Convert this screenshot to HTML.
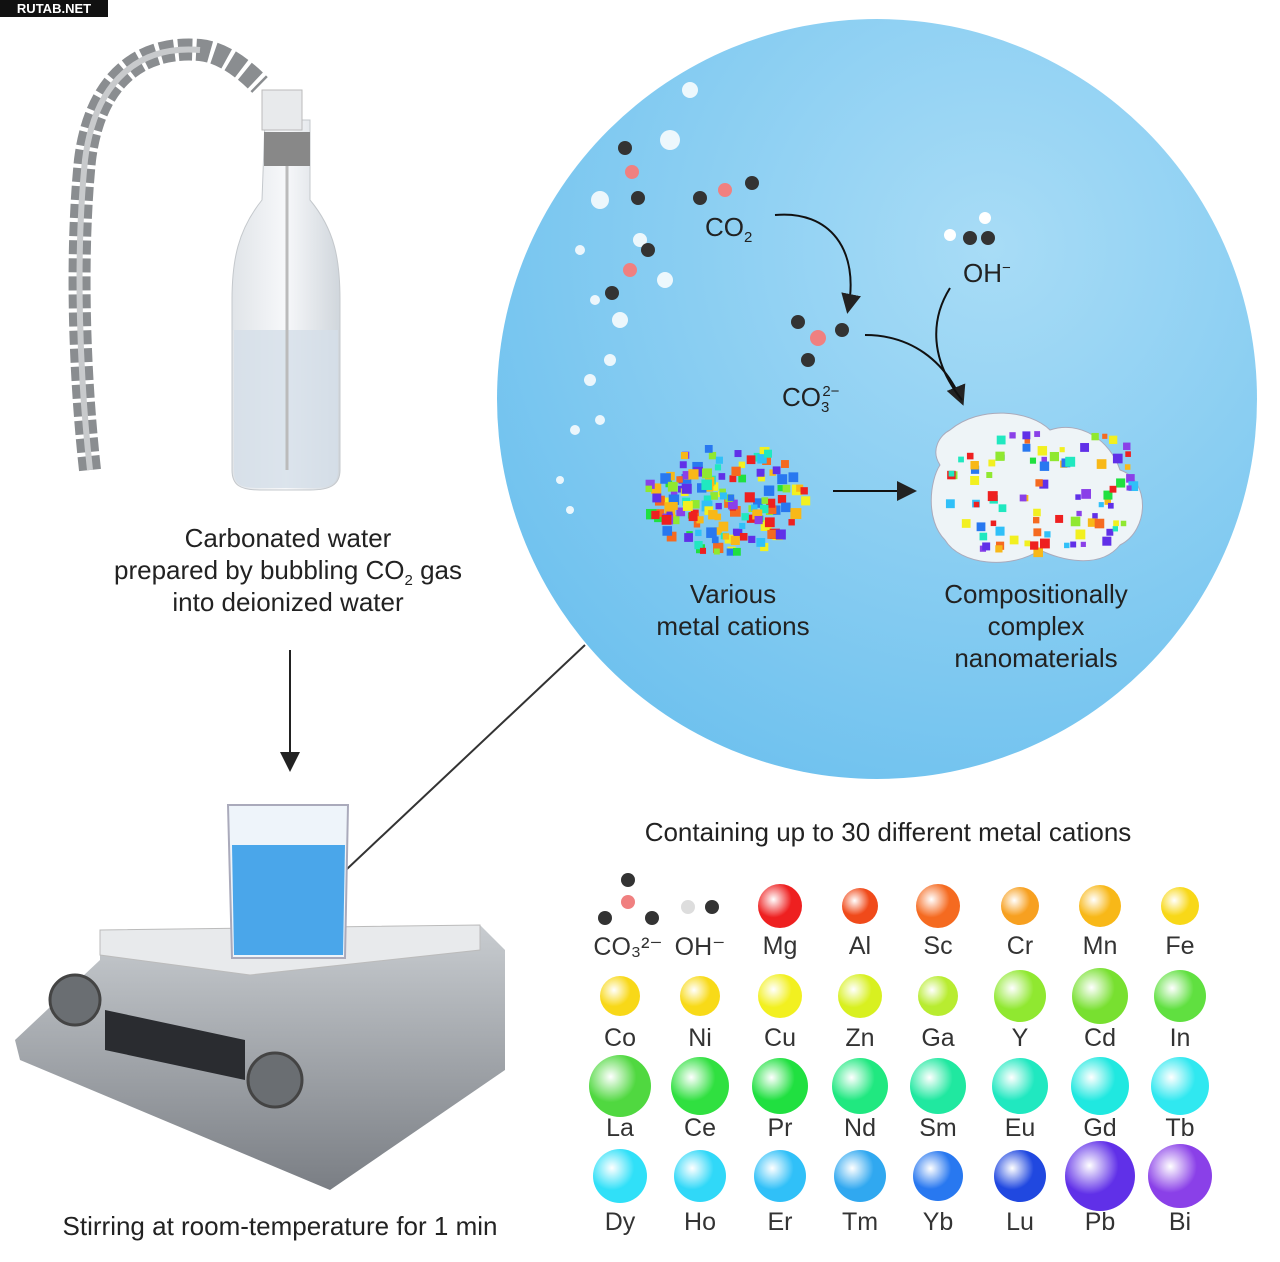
<!DOCTYPE html>
<html><head><meta charset="utf-8"><style>
html,body{margin:0;padding:0;background:#fff;}
body{width:1280px;height:1262px;position:relative;overflow:hidden;font-family:"Liberation Sans",sans-serif;color:#222;}
.t{position:absolute;text-align:center;white-space:nowrap;}
.t sub,.t sup{line-height:0;font-size:15px;}
.lbl{position:absolute;width:80px;text-align:center;font-size:25px;color:#333;}
.dot{position:absolute;border-radius:50%;}
</style></head><body>
<div style="position:absolute;left:0;top:0;width:108px;height:17px;background:#111;color:#fff;font-size:13px;font-weight:bold;line-height:17px;text-align:center;">RUTAB.NET</div>

<svg width="1280" height="1262" style="position:absolute;left:0;top:0">
<defs>
<radialGradient id="bg" cx="0.65" cy="0.3" r="0.8"><stop offset="0" stop-color="#a8dcf6"/><stop offset="1" stop-color="#6cc0ee"/></radialGradient>
<linearGradient id="bot" x1="0" x2="1"><stop offset="0" stop-color="#e0e4e8"/><stop offset="0.5" stop-color="#f7f8fa"/><stop offset="1" stop-color="#d0d6dc"/></linearGradient>
<linearGradient id="pl" x1="0" x2="0" y1="0" y2="1"><stop offset="0" stop-color="#c8ccd0"/><stop offset="1" stop-color="#7a7e84"/></linearGradient>
<marker id="ah" markerWidth="10" markerHeight="10" refX="8" refY="5" orient="auto"><path d="M0,0 L10,5 L0,10 z" fill="#222"/></marker>
</defs>
<circle cx="877" cy="399" r="380" fill="url(#bg)"/>
<g fill="#fff" opacity="0.85">
<circle cx="600" cy="200" r="9"/><circle cx="620" cy="320" r="8"/><circle cx="590" cy="380" r="6"/><circle cx="575" cy="430" r="5"/><circle cx="560" cy="480" r="4"/><circle cx="670" cy="140" r="10"/><circle cx="690" cy="90" r="8"/><circle cx="640" cy="240" r="7"/><circle cx="665" cy="280" r="8"/><circle cx="580" cy="250" r="5"/><circle cx="600" cy="420" r="5"/><circle cx="570" cy="510" r="4"/><circle cx="610" cy="360" r="6"/><circle cx="595" cy="300" r="5"/>
</g>
<path d="M90,470 C80,380 75,260 85,160 C95,80 140,45 200,50 C220,52 240,65 260,85" stroke="#8a8d90" stroke-width="22" fill="none" stroke-dasharray="14 4"/>
<path d="M90,470 C80,380 75,260 85,160 C95,80 140,45 200,50" stroke="#c8cacc" stroke-width="6" fill="none"/>
<path d="M265,120 L310,120 L310,200 C335,230 340,260 340,300 L340,470 C340,485 330,490 310,490 L260,490 C240,490 232,485 232,470 L232,300 C232,260 238,230 262,200 Z" fill="url(#bot)" stroke="#c4c8cc"/>
<path d="M234,330 L338,330 L338,470 C338,485 330,488 310,488 L260,488 C240,488 234,485 234,470 Z" fill="#d4dfe8" opacity="0.8"/>
<rect x="264" y="132" width="46" height="34" fill="#888"/>
<rect x="262" y="90" width="40" height="40" fill="#e8eaec" stroke="#bbb"/>
<line x1="287" y1="166" x2="287" y2="470" stroke="#bbb" stroke-width="3"/>
<line x1="290" y1="650" x2="290" y2="768" stroke="#222" stroke-width="2" marker-end="url(#ah)"/>
<line x1="330" y1="885" x2="585" y2="645" stroke="#333" stroke-width="2"/>
<circle cx="330" cy="885" r="5" fill="#222"/>
<!-- stirrer -->
<path d="M100,930 L480,925 L505,950 L505,1070 L330,1190 L20,1060 L15,1040 L100,960 Z" fill="url(#pl)"/>
<path d="M100,930 L480,925 L480,950 L250,975 L100,955 Z" fill="#e8eaec" stroke="#bbb"/>
<path d="M105,1010 L245,1040 L245,1080 L105,1050 Z" fill="#2a2c30"/>
<circle cx="75" cy="1000" r="25" fill="#6a6e72" stroke="#444" stroke-width="3"/>
<circle cx="275" cy="1080" r="27" fill="#6a6e72" stroke="#444" stroke-width="3"/>
<path d="M228,805 L348,805 L345,958 L232,958 Z" fill="#eef4fa" stroke="#aab" stroke-width="2"/>
<path d="M232,845 L345,845 L343,955 L234,955 Z" fill="#4aa6ea"/>
<g>
<circle cx="625" cy="148" r="7" fill="#333"/><circle cx="632" cy="172" r="7" fill="#f08080"/><circle cx="638" cy="198" r="7" fill="#333"/>
<circle cx="700" cy="198" r="7" fill="#333"/><circle cx="725" cy="190" r="7" fill="#f08080"/><circle cx="752" cy="183" r="7" fill="#333"/>
<circle cx="612" cy="293" r="7" fill="#333"/><circle cx="630" cy="270" r="7" fill="#f08080"/><circle cx="648" cy="250" r="7" fill="#333"/>
<circle cx="818" cy="338" r="8" fill="#f08080"/><circle cx="798" cy="322" r="7" fill="#333"/><circle cx="842" cy="330" r="7" fill="#333"/><circle cx="808" cy="360" r="7" fill="#333"/>
<circle cx="950" cy="235" r="6" fill="#fff"/><circle cx="970" cy="238" r="7" fill="#333"/><circle cx="985" cy="218" r="6" fill="#fff"/><circle cx="988" cy="238" r="7" fill="#333"/>
</g>
<path d="M775,215 C830,210 860,250 848,310" stroke="#111" stroke-width="2" fill="none" marker-end="url(#ah)"/>
<path d="M865,335 C910,335 945,360 962,402" stroke="#111" stroke-width="2" fill="none" marker-end="url(#ah)"/>
<path d="M950,288 C930,320 930,360 962,400" stroke="#111" stroke-width="2" fill="none"/>
<line x1="833" y1="491" x2="913" y2="491" stroke="#111" stroke-width="2" marker-end="url(#ah)"/>
<g id="cloud"></g>
<path d="M950,430 C980,405 1030,410 1050,430 C1080,420 1110,440 1120,470 C1150,480 1150,530 1120,545 C1100,570 1060,560 1040,550 C1010,570 960,565 945,540 C925,520 930,480 940,465 C930,450 940,435 950,430 Z" fill="#eef4f7" stroke="#aab"/>
<g id="nano"></g>
</svg>

<div class="t" style="left:88px;width:400px;top:522px;font-size:26px;line-height:32px;">Carbonated water<br>prepared by bubbling CO<sub>2</sub> gas<br>into deionized water</div>
<div class="t" style="left:30px;width:500px;top:1211px;font-size:26px;">Stirring at room-temperature for 1 min</div>
<div class="t" style="left:600px;width:576px;top:817px;font-size:26px;">Containing up to 30 different metal cations</div>
<div class="t" style="left:705px;top:212px;font-size:26px;">CO<sub>2</sub></div>
<div class="t" style="left:963px;top:258px;font-size:26px;">OH<sup>−</sup></div>
<div class="t" style="left:782px;top:382px;font-size:26px;">CO<sub>3</sub><sup style="margin-left:-7px">2−</sup></div>
<div class="t" style="left:633px;width:200px;top:578px;font-size:26px;line-height:32px;">Various<br>metal cations</div>
<div class="t" style="left:920px;width:232px;top:578px;font-size:26px;line-height:32px;">Compositionally<br>complex<br>nanomaterials</div>

<div id="grid"></div>
<script>
var cols=[620,700,780,860,938,1020,1100,1180];
var rowsC=[906,996,1086,1176], rowsL=[932,1024,1114,1208];
var els=[["CO₃²⁻",null,0],["OH⁻",null,0],["Mg","#ee2020",44],["Al","#f04a1a",36],["Sc","#f56a20",44],["Cr","#f7a020",38],["Mn","#f8b818",42],["Fe","#f8d818",38],
["Co","#f8d818",40],["Ni","#f8da18",40],["Cu","#f2f020",44],["Zn","#d8f020",44],["Ga","#b8ec30",40],["Y","#90e830",52],["Cd","#78e030",56],["In","#60e040",52],
["La","#50d840",62],["Ce","#30e040",58],["Pr","#20e040",56],["Nd","#20e880",56],["Sm","#20e8a0",56],["Eu","#20e8c0",56],["Gd","#20e8e0",58],["Tb","#30e8f0",58],
["Dy","#30e0f8",54],["Ho","#30d8f8",52],["Er","#30c0f8",52],["Tm","#30a8f0",52],["Yb","#2878f0",50],["Lu","#2048e0",52],["Pb","#6030e8",70],["Bi","#8a40e8",64]];
var h="";
els.forEach(function(e,i){var c=cols[i%8],r=Math.floor(i/8);
if(e[1])h+='<div class="dot" style="left:'+(c-e[2]/2)+'px;top:'+(rowsC[r]-e[2]/2)+'px;width:'+e[2]+'px;height:'+e[2]+'px;background:radial-gradient(circle at 35% 35%,#fff8 0,'+e[1]+' 45%,'+e[1]+' 100%)"></div>';
h+='<div class="lbl" style="left:'+(c-40+(i==0?8:0))+'px;top:'+rowsL[r]+'px">'+e[0]+'</div>';});
document.getElementById('grid').innerHTML=h;
var ns="http://www.w3.org/2000/svg";
function add(g,x,y,s,c){var r=document.createElementNS(ns,'rect');r.setAttribute('x',x);r.setAttribute('y',y);r.setAttribute('width',s);r.setAttribute('height',s);r.setAttribute('fill',c);g.appendChild(r);}
var pal=["#ee2020","#f8b818","#f2f020","#90e830","#20e040","#20e8c0","#30c0f8","#2878f0","#6030e8","#8a40e8","#f56a20"];
var seed=7;function rnd(){seed=(seed*9301+49297)%233280;return seed/233280;}
var g=document.getElementById('cloud');
for(var i=0;i<160;i++){var a=rnd()*6.283,rr=Math.sqrt(rnd());add(g,722+Math.cos(a)*rr*80,495+Math.sin(a)*rr*55,6+rnd()*5,pal[Math.floor(rnd()*pal.length)]);}
var g2=document.getElementById('nano');
for(var i=0;i<90;i++){add(g2,945+rnd()*185,430+rnd()*120,5+rnd()*5,pal[Math.floor(rnd()*pal.length)]);}
var s=document.querySelector('svg');
[[628,880,"#333"],[628,902,"#f08080"],[605,918,"#333"],[652,918,"#333"],[688,907,"#ddd"],[712,907,"#333"]].forEach(function(p){var c=document.createElementNS(ns,'circle');c.setAttribute('cx',p[0]);c.setAttribute('cy',p[1]);c.setAttribute('r',7);c.setAttribute('fill',p[2]);s.appendChild(c);});
</script>
</body></html>
